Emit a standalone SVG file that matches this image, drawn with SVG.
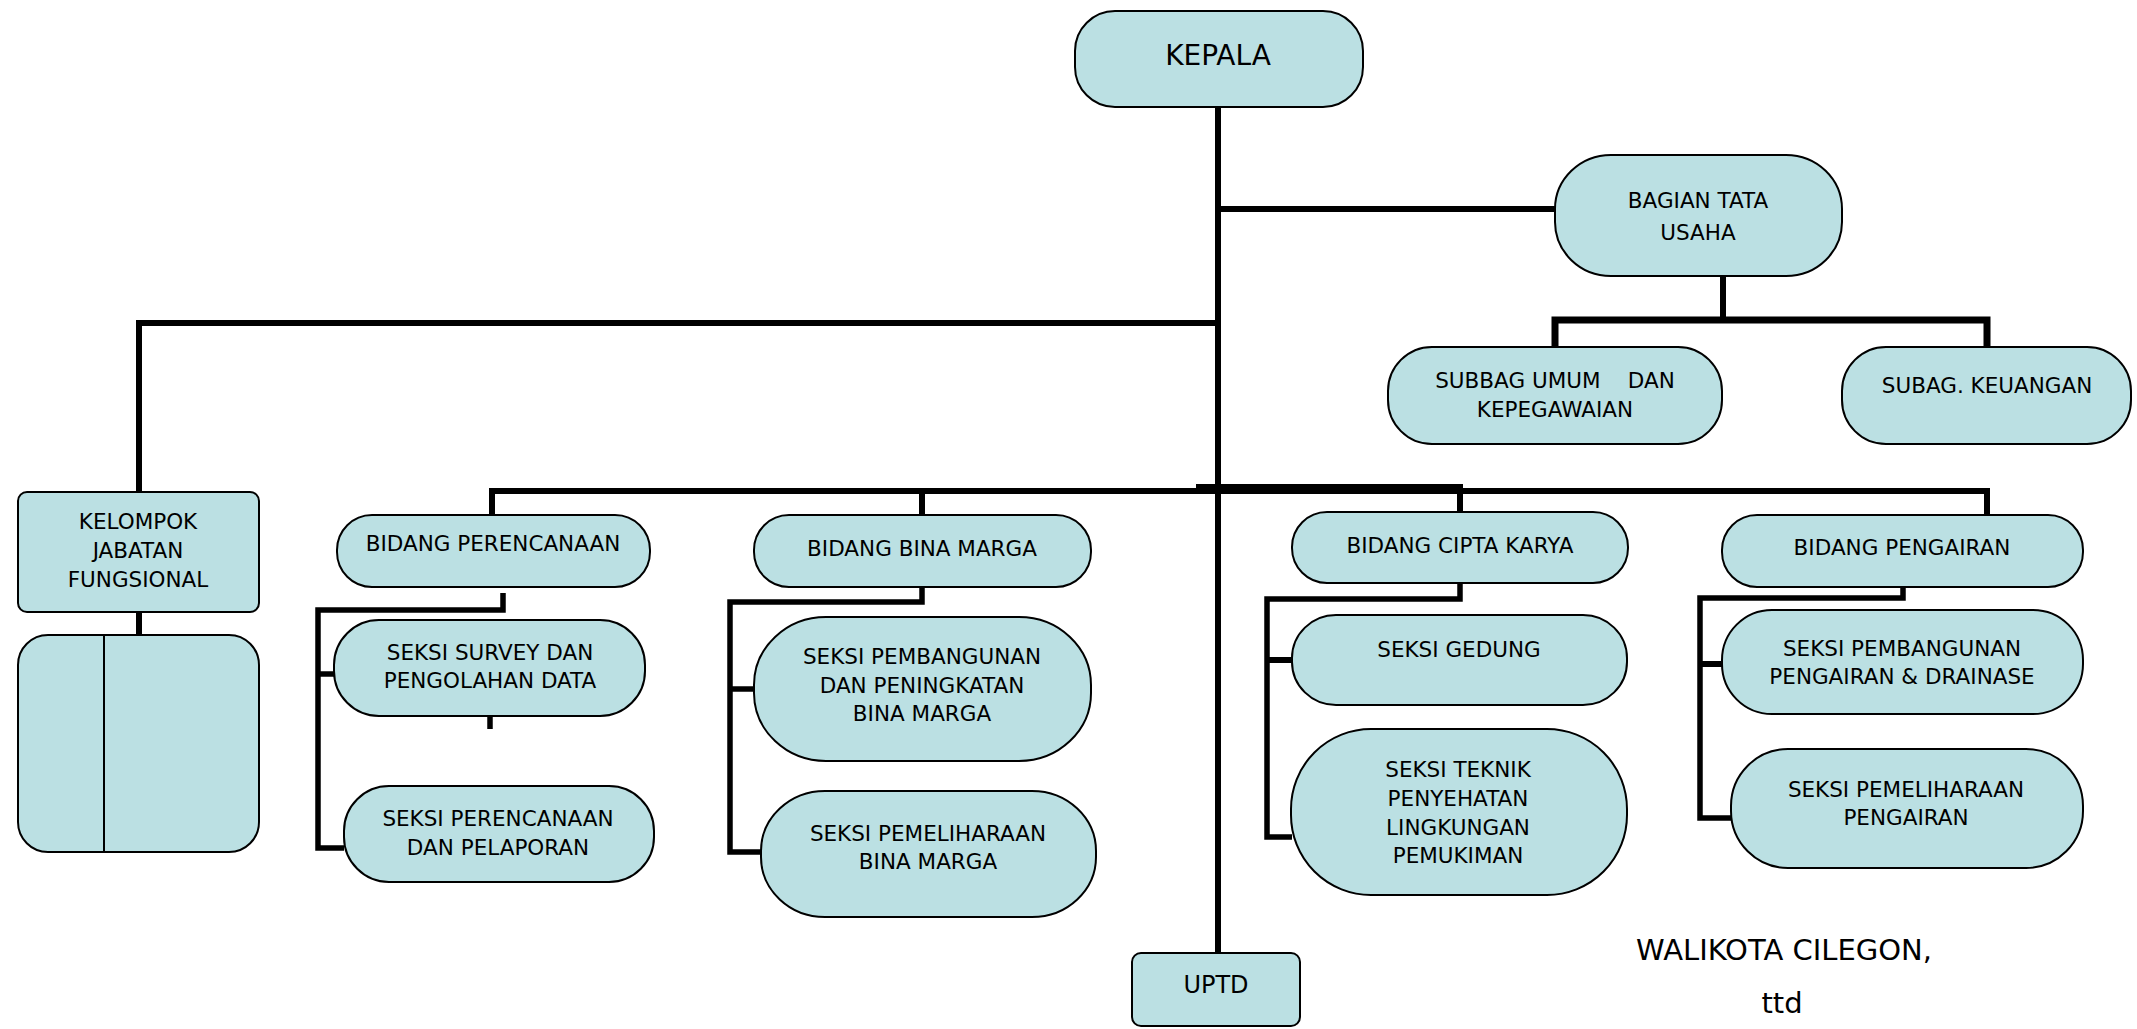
<svg xmlns="http://www.w3.org/2000/svg" width="2137" height="1029" viewBox="0 0 2137 1029">
<style>
.box{fill:#BBE0E3;stroke:#000;stroke-width:2}
.ln{fill:none;stroke:#000;stroke-width:6;stroke-linecap:butt;stroke-linejoin:miter}
.sub{fill:none;stroke:#000;stroke-width:5.5;stroke-linejoin:miter}
.t{font-family:"DejaVu Sans","Liberation Sans",sans-serif;font-size:21.5px;fill:#000;text-anchor:middle}
.big{font-size:28px}
.sig{font-size:29px}
</style>
<rect width="2137" height="1029" fill="#fff"/>
<g id="connectors">
<line class="ln" x1="1218" y1="106" x2="1218" y2="954"/>
<line class="ln" x1="1218" y1="209" x2="1555" y2="209"/>
<line class="ln" x1="1723" y1="276" x2="1723" y2="320"/>
<polyline class="ln" style="stroke-width:7" points="1555,348 1555,320 1987,320 1987,348"/>
<polyline class="ln" points="139,492 139,323 1218,323"/>
<line class="ln" x1="139" y1="612" x2="139" y2="635"/>
<line class="ln" x1="489" y1="491" x2="1990" y2="491"/>
<line class="ln" x1="1196" y1="487" x2="1463" y2="487"/>
<line class="ln" x1="492" y1="491" x2="492" y2="515"/>
<line class="ln" x1="922" y1="491" x2="922" y2="515"/>
<line class="ln" x1="1460" y1="487" x2="1460" y2="512"/>
<line class="ln" x1="1987" y1="491" x2="1987" y2="515"/>
<polyline class="sub" points="503,593 503,610 318,610 318,848 344,848"/>
<line class="sub" x1="318" y1="674" x2="335" y2="674"/>
<line class="sub" x1="490" y1="716" x2="490" y2="729"/>
<polyline class="sub" points="922,587 922,602 730,602 730,852 761,852"/>
<line class="sub" x1="730" y1="689" x2="755" y2="689"/>
<polyline class="sub" points="1460,583 1460,599 1267,599 1267,837 1292,837"/>
<line class="ln" x1="1267" y1="660" x2="1293" y2="660"/>
<polyline class="sub" points="1903,587 1903,598 1700,598 1700,818 1732,818"/>
<line class="ln" x1="1700" y1="664" x2="1723" y2="664"/>
</g>
<g id="kepala"><rect class="box" x="1075" y="11" width="288" height="96" rx="40" ry="40"/><text class="t big" x="1218" y="65">KEPALA</text></g>
<g id="bagian-tata-usaha"><rect class="box" x="1555" y="155" width="287" height="121" rx="56" ry="54"/><text class="t" x="1698" y="208">BAGIAN TATA</text><text class="t" x="1698" y="240">USAHA</text></g>
<g id="subbag-umum"><rect class="box" x="1388" y="347" width="334" height="97" rx="44" ry="44"/><text class="t" x="1555" y="388" xml:space="preserve">SUBBAG UMUM    DAN</text><text class="t" x="1555" y="417">KEPEGAWAIAN</text></g>
<g id="subag-keuangan"><rect class="box" x="1842" y="347" width="289" height="97" rx="44" ry="44"/><text class="t" x="1987" y="393">SUBAG. KEUANGAN</text></g>
<g id="kelompok"><rect class="box" x="18" y="492" width="241" height="120" rx="9" ry="9"/><text class="t" x="138" y="529">KELOMPOK</text><text class="t" x="138" y="558">JABATAN</text><text class="t" x="138" y="587">FUNGSIONAL</text></g>
<g id="kelompok-list"><rect class="box" x="18" y="635" width="241" height="217" rx="30" ry="30"/><line x1="104" y1="634" x2="104" y2="852" stroke="#000" stroke-width="2"/></g>
<g id="bidang-perencanaan"><rect class="box" x="337" y="515" width="313" height="72" rx="35" ry="35"/><text class="t" x="493" y="551">BIDANG PERENCANAAN</text></g>
<g id="seksi-survey"><rect class="box" x="334" y="620" width="311" height="96" rx="45" ry="45"/><text class="t" x="490" y="660">SEKSI SURVEY DAN</text><text class="t" x="490" y="688">PENGOLAHAN DATA</text></g>
<g id="seksi-perencanaan"><rect class="box" x="344" y="786" width="310" height="96" rx="45" ry="45"/><text class="t" x="498" y="826">SEKSI PERENCANAAN</text><text class="t" x="498" y="855">DAN PELAPORAN</text></g>
<g id="bidang-bina-marga"><rect class="box" x="754" y="515" width="337" height="72" rx="35" ry="35"/><text class="t" x="922" y="556">BIDANG BINA MARGA</text></g>
<g id="seksi-pembangunan-bm"><rect class="box" x="754" y="617" width="337" height="144" rx="72" ry="68"/><text class="t" x="922" y="664">SEKSI PEMBANGUNAN</text><text class="t" x="922" y="693">DAN PENINGKATAN</text><text class="t" x="922" y="721">BINA MARGA</text></g>
<g id="seksi-pemeliharaan-bm"><rect class="box" x="761" y="791" width="335" height="126" rx="64" ry="60"/><text class="t" x="928" y="841">SEKSI PEMELIHARAAN</text><text class="t" x="928" y="869">BINA MARGA</text></g>
<g id="bidang-cipta-karya"><rect class="box" x="1292" y="512" width="336" height="71" rx="35" ry="35"/><text class="t" x="1460" y="553">BIDANG CIPTA KARYA</text></g>
<g id="seksi-gedung"><rect class="box" x="1292" y="615" width="335" height="90" rx="44" ry="43"/><text class="t" x="1459" y="657">SEKSI GEDUNG</text></g>
<g id="seksi-teknik"><rect class="box" x="1291" y="729" width="336" height="166" rx="80" ry="80"/><text class="t" x="1458" y="777">SEKSI TEKNIK</text><text class="t" x="1458" y="806">PENYEHATAN</text><text class="t" x="1458" y="835">LINGKUNGAN</text><text class="t" x="1458" y="863">PEMUKIMAN</text></g>
<g id="bidang-pengairan"><rect class="box" x="1722" y="515" width="361" height="72" rx="35" ry="35"/><text class="t" x="1902" y="555">BIDANG PENGAIRAN</text></g>
<g id="seksi-pembangunan-p"><rect class="box" x="1722" y="610" width="361" height="104" rx="50" ry="50"/><text class="t" x="1902" y="656">SEKSI PEMBANGUNAN</text><text class="t" x="1902" y="684">PENGAIRAN &amp; DRAINASE</text></g>
<g id="seksi-pemeliharaan-p"><rect class="box" x="1731" y="749" width="352" height="119" rx="57" ry="57"/><text class="t" x="1906" y="797">SEKSI PEMELIHARAAN</text><text class="t" x="1906" y="825">PENGAIRAN</text></g>
<g id="uptd"><rect class="box" x="1132" y="953" width="168" height="73" rx="9" ry="9"/><text class="t" style="font-size:24px" x="1216" y="993">UPTD</text></g>
<g id="signature"><text class="t sig" x="1784" y="960">WALIKOTA CILEGON,</text><text class="t sig" x="1782" y="1013">ttd</text></g>
</svg>
